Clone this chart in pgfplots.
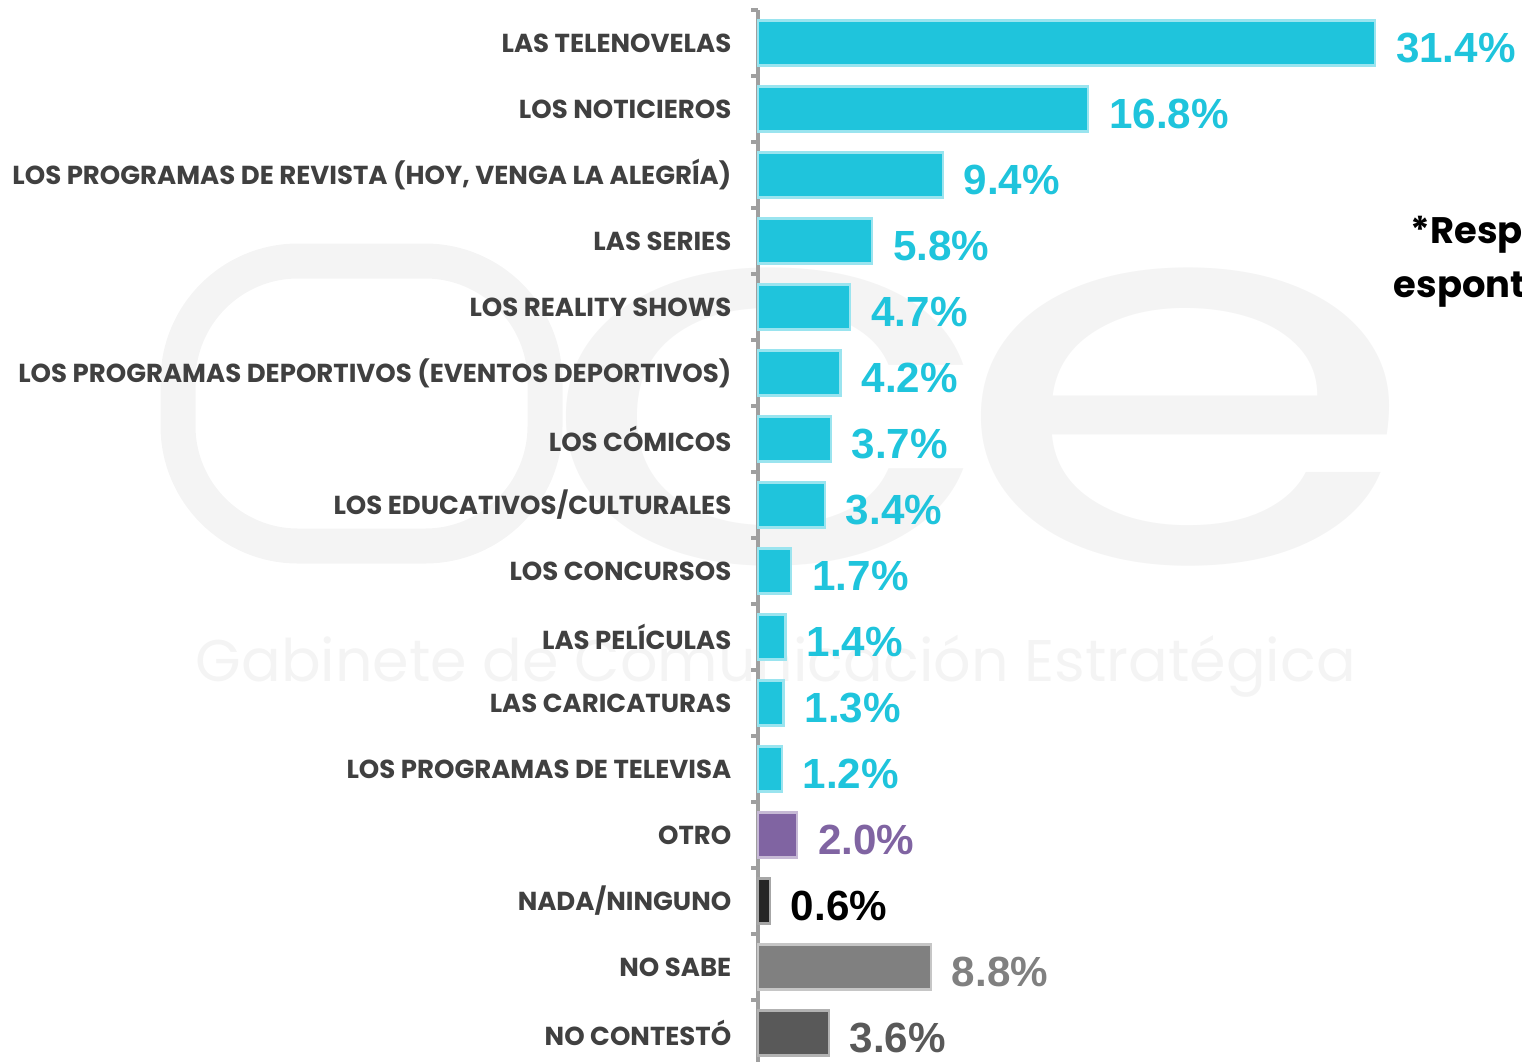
\documentclass[border=0pt]{standalone}
\usepackage{fontspec}
\setmainfont{Liberation Sans}
\newfontfamily\labfont{Poppins}
\newfontfamily\wmfont{Poppins}
\usepackage{pgfplots}
\pgfplotsset{compat=1.18}

\definecolor{cyanbar}{HTML}{1FC4DC}
\definecolor{purplebar}{HTML}{8064A2}
\definecolor{blackbar}{HTML}{262626}
\definecolor{graybar}{HTML}{808080}
\definecolor{dgraybar}{HTML}{595959}
\definecolor{labgray}{HTML}{404040}
\definecolor{wm}{HTML}{F4F4F4}

\begin{document}
\begin{tikzpicture}[x=1cm,y=1cm]
\useasboundingbox (0,0) rectangle (15.22,10.61);
% faint watermark
\draw[wm,line width=0.35cm,rounded corners=1.2cm] (1.78,5.15) rectangle (5.45,8.0);
\node[wm,font=\wmfont\fontsize{150}{150}\selectfont,xscale=1.45,anchor=base] at (7.65,5.0) {c};
\node[wm,font=\wmfont\fontsize{150}{150}\selectfont,xscale=1.45,anchor=base] at (11.85,5.0) {e};
\node[wm,anchor=west,inner sep=0pt] at (1.95,3.95) {\resizebox{11.6cm}{!}{\wmfont Gabinete de Comunicación Estratégica}};

\begin{axis}[
  at={(7.58cm,10.18cm)}, anchor=origin,
  x=0.1965cm, y=0.66cm, y dir=reverse,
  xmin=0, xmax=38, ymin=-0.5, ymax=15.5,
  axis x line=none, axis y line=left,
  axis line style={-, gray!75, line width=0.9pt},
  clip=false,
  ytick={0,...,15},
  yticklabels={LAS TELENOVELAS, LOS NOTICIEROS, {LOS PROGRAMAS DE REVISTA (HOY, VENGA LA ALEGRÍA)}, LAS SERIES, LOS REALITY SHOWS, LOS PROGRAMAS DEPORTIVOS (EVENTOS DEPORTIVOS), LOS CÓMICOS, LOS EDUCATIVOS/CULTURALES, LOS CONCURSOS, LAS PELÍCULAS, LAS CARICATURAS, LOS PROGRAMAS DE TELEVISA, OTRO, NADA/NINGUNO, NO SABE, NO CONTESTÓ},
  major tick length=0pt,
  minor ytick={-0.5,0.5,...,15.5},
  minor tick length=0.07cm,
  tick align=outside,
  minor tick style={gray!75, line width=0.9pt},
  yticklabel style={font=\labfont\bfseries\fontsize{7.4}{8}\selectfont, text=labgray, inner sep=0pt, xshift=-0.26cm},
  xbar, bar width=0.45cm, bar shift=0pt,
  nodes near coords={\pgfmathprintnumber[fixed,fixed zerofill,precision=1]{\pgfplotspointmeta}\%},
  /pgf/number format/assume math mode=true,
  nodes near coords style={anchor=west, inner sep=0pt, xshift=0.2cm, yshift=-0.05cm, font=\bfseries\fontsize{12}{12}\selectfont},
]
\addplot[fill=cyanbar, draw=cyanbar!45!white, line width=0.6pt, every node near coord/.append style={text=cyanbar}]
 coordinates {(31.4,0) (16.8,1) (9.4,2) (5.8,3) (4.7,4) (4.2,5) (3.7,6) (3.4,7) (1.7,8) (1.4,9) (1.3,10) (1.2,11)};
\addplot[fill=purplebar, draw=purplebar!45!white, line width=0.6pt, every node near coord/.append style={text=purplebar}]
 coordinates {(2.0,12)};
\addplot[fill=blackbar, draw=gray!70, line width=0.6pt, every node near coord/.append style={text=black}]
 coordinates {(0.6,13)};
\addplot[fill=graybar, draw=gray!45, line width=0.6pt, every node near coord/.append style={text=graybar}]
 coordinates {(8.8,14)};
\addplot[fill=dgraybar, draw=gray!60, line width=0.6pt, every node near coord/.append style={text=dgraybar}]
 coordinates {(3.6,15)};
\end{axis}

\node[anchor=west,font=\labfont\bfseries\fontsize{10.5}{11}\selectfont,inner sep=0pt] at (14.10,8.26) {*Respuesta};
\node[anchor=west,font=\labfont\bfseries\fontsize{10.5}{11}\selectfont,inner sep=0pt] at (13.93,7.74) {espontánea};
\end{tikzpicture}
\end{document}
